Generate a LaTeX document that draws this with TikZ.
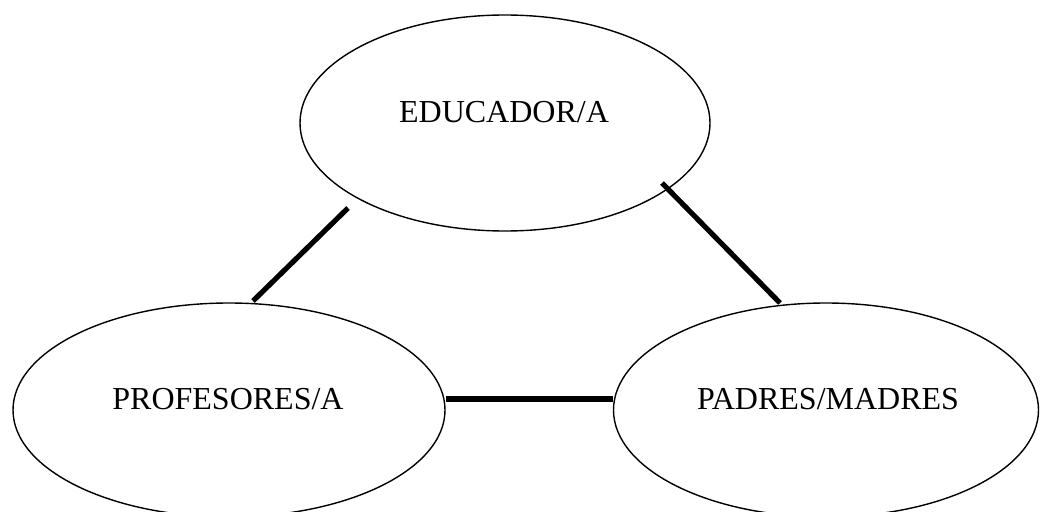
\documentclass[tikz,border=0pt]{standalone}
\usepackage{fontspec}
\setmainfont{Liberation Serif}
\usetikzlibrary{shapes.geometric}
\begin{document}
\begin{tikzpicture}[x=1pt,y=1pt,
  ell/.style={draw=black, line width=1.4pt, ellipse, inner sep=0pt},
  lbl/.style={font=\fontsize{32}{38}\selectfont, inner sep=0pt, anchor=base},
  conn/.style={draw=black, line width=5.2pt}]
\useasboundingbox (0,0) rectangle (1040,-511);
\node[ell, minimum width=410pt, minimum height=216pt] (edu) at (505,-123) {};
\node[ell, minimum width=432pt, minimum height=214pt] (prof) at (229,-410) {};
\node[ell, minimum width=425pt, minimum height=214pt] (pad) at (826,-410) {};
\node[lbl] (edut) at (504,-122) {EDUCADOR/A};
\node[lbl] (proft) at (228,-409) {PROFESORES/A};
\node[lbl] (padt) at (828,-409) {PADRES/MADRES};
\draw[conn] ([xshift=-157pt,yshift=-85pt]edu.center) -- ([xshift=24pt,yshift=109pt]prof.center);
\draw[conn] ([xshift=157pt,yshift=-60pt]edu.center) -- ([xshift=-46pt,yshift=107pt]pad.center);
\draw[conn] ([yshift=11pt]prof.east) -- ([yshift=11pt]pad.west);
\end{tikzpicture}
\end{document}
